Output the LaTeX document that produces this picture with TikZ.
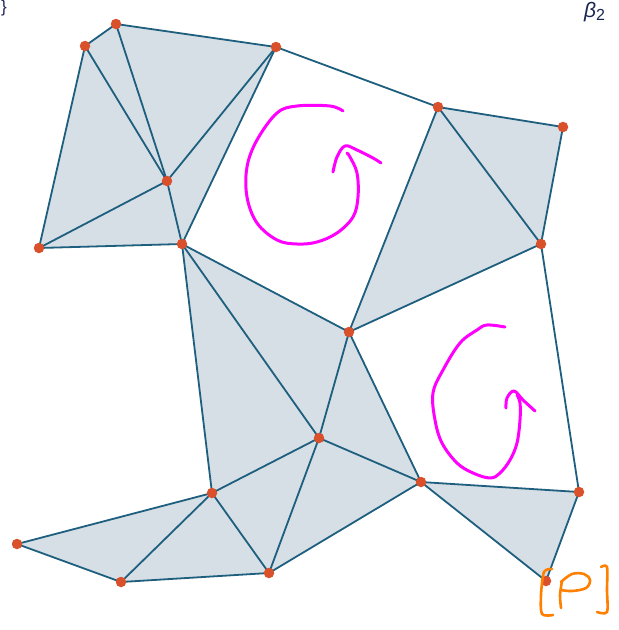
\documentclass[tikz,border=0pt]{standalone}
\usepackage{fontspec}
\newfontfamily\lsans{Liberation Sans}
\usetikzlibrary{calc}
\definecolor{edgec}{HTML}{1E5E7E}
\definecolor{facec}{HTML}{D5DFE5}
\definecolor{dotc}{HTML}{D9502A}
\definecolor{mag}{HTML}{FF00FF}
\definecolor{orng}{HTML}{FF8000}
\definecolor{navy}{HTML}{1A2550}
\tikzset{
  face/.style={fill=facec, draw=none},
  edge/.style={draw=edgec, line width=1.8pt},
  vtx/.style={circle, fill=dotc, inner sep=0pt, minimum size=10.5pt},
  ink/.style={draw=mag, line width=3pt, line cap=round, line join=round},
  pen/.style={draw=orng, line width=2.6pt, line cap=round, line join=round},
}
\begin{document}
\begin{tikzpicture}[x=1pt,y=-1pt]
\useasboundingbox (0,0) rectangle (619,630);
% vertices
\coordinate (A) at (85,46);
\coordinate (B) at (116,24);
\coordinate (C) at (276,47);
\coordinate (D) at (167,181);
\coordinate (E) at (39,248);
\coordinate (F) at (182,244);
\coordinate (G) at (438,107);
\coordinate (H) at (563,127);
\coordinate (I) at (541,244);
\coordinate (J) at (349,332);
\coordinate (K) at (319,438);
\coordinate (L) at (212,493);
\coordinate (M) at (421,482);
\coordinate (N) at (579,492);
\coordinate (O) at (546,581);
\coordinate (Q) at (17,544);
\coordinate (R) at (121,582);
\coordinate (S) at (269,573);
% faces
\foreach \a/\b/\c in {A/B/D, A/E/D, B/C/D, C/D/F, D/E/F, G/H/I, G/I/J, F/J/K, F/K/L, J/K/M, K/L/S, K/S/M, L/Q/R, L/R/S, M/N/O}
  \path[face] (\a) -- (\b) -- (\c) -- cycle;
% edges
\foreach \a/\b in {A/B, B/C, A/E, A/D, B/D, C/D, C/F, D/E, D/F, E/F,
  C/G, G/H, G/I, G/J, H/I, I/J, I/N, F/J, F/K, F/L, J/K, J/M,
  K/L, K/S, K/M, L/Q, L/R, L/S, Q/R, R/S, S/M, M/N, M/O, N/O}
  \draw[edge] (\a) -- (\b);
% vertex dots
\foreach \v in {A,B,C,D,E,F,G,H,I,J,K,L,M,N,O,Q,R,S}
  \node[vtx] (d\v) at (\v) {};
% magenta rotation arrows
\draw[ink] plot[smooth, tension=0.6] coordinates {(343,111) (330,106) (297,106) (277,113) (257,140) (247,167) (247,197) (257,223) (277,240) (297,244) (317,242) (337,233) (353,217) (358,197) (357,173) (350,157) (347,153)};
\draw[ink] plot[smooth, tension=0.6] coordinates {(333,172) (337,157) (345,146) (357,150) (373,158) (381,163)};
\draw[ink] plot[smooth, tension=0.6] coordinates {(505,327) (487,325) (477,330) (460,343) (443,370) (433,393) (435,420) (442,443) (457,463) (473,473) (490,478) (500,473) (510,460) (517,443) (520,420) (520,403) (517,395)};
\draw[ink] plot[smooth, tension=0.6] coordinates {(506,408) (507,398) (514,391) (523,400) (535,411)};
% orange [P]
\draw[pen] plot[smooth, tension=0.5] coordinates {(552,569) (544,572) (541,595) (542,614) (553,615)};
\draw[pen] plot[smooth, tension=0.5] coordinates {(561,608) (560,595) (562,581)};
\draw[pen] plot[smooth, tension=0.6] coordinates {(561,582) (572,574) (584,574) (590,580) (586,588) (572,591) (561,590)};
\draw[pen] plot[smooth, tension=0.5] coordinates {(601,567) (607,567) (607,590) (607,612) (597,612)};
% texts at the top
\node[text=navy, font=\lsans\fontsize{17}{20}\selectfont, inner sep=0pt, anchor=north west] (tl) at (1,0) {\}};
\node[text=navy, font=\lsans\fontsize{21}{24}\selectfont, inner sep=0pt, anchor=base west] (tr) at (584,17) {\textit{β}\raisebox{-3pt}{\fontsize{16}{18}\selectfont 2}};
\end{tikzpicture}
\end{document}
